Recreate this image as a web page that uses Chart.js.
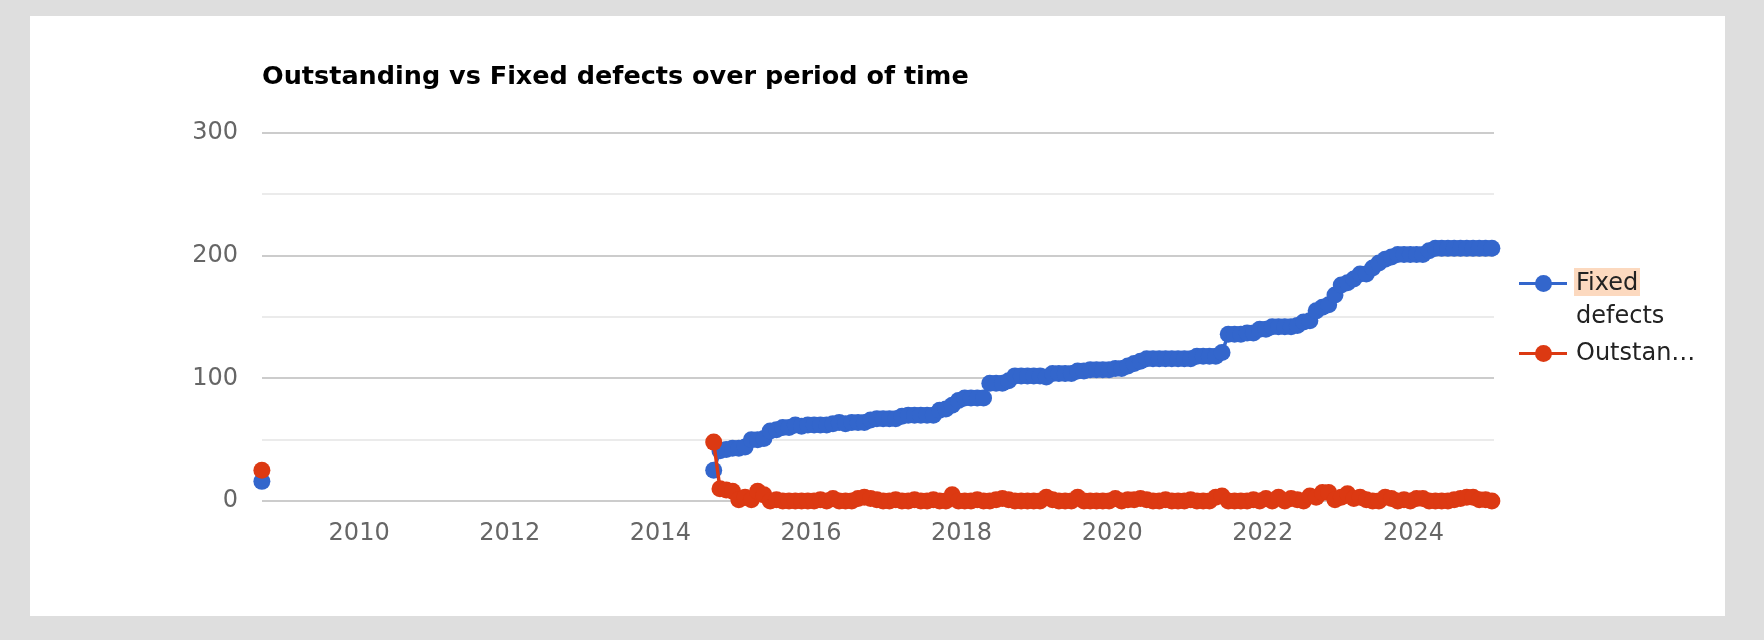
<!DOCTYPE html>
<html>
<head>
<meta charset="utf-8">
<script src="https://cdn.jsdelivr.net/npm/chart.js@4.4.1/dist/chart.umd.min.js"></script>
<style>
    body { margin: 0; background: #dedede; font-family: "DejaVu Sans", sans-serif; }
    #tarjeta { position: absolute; left: 30px; top: 16px; width: 1695px; height: 600px; background: #fff; }
    #lienzo { position: absolute; left: 0; top: 0; }
    #titulo { position: absolute; left: 262px; top: 60px; font-size: 25.5px; font-weight: bold; color: #000; white-space: nowrap; line-height: 30px; }
    .item { position: absolute; left: 1519px; font-size: 24px; color: #222; line-height: 33px; }
    .muestra { position: absolute; left: 0; width: 48px; height: 3px; }
    .punto { position: absolute; left: 16px; top: -7px; width: 17px; height: 17px; border-radius: 50%; }
    .texto { position: absolute; left: 57px; top: -16px; white-space: nowrap; }
    .marca { background: #fcd9bf; padding: 0 2px; margin-left: -2px; }
</style>
</head>
<body>
<div id="tarjeta"></div>
<canvas id="lienzo" width="1764" height="640"></canvas>
<div id="titulo">Outstanding vs Fixed defects over period of time</div>
<div class="item" style="top:282px">
    <div class="muestra" style="background:#3366cc"><div class="punto" style="background:#3366cc"></div></div>
    <div class="texto"><span class="marca">Fixed</span><br>defects</div>
</div>
<div class="item" style="top:352px">
    <div class="muestra" style="background:#dc3912"><div class="punto" style="background:#dc3912"></div></div>
    <div class="texto">Outstan…</div>
</div>
<script>
// punto suelto del principio (sep 2008)
var mesAislado = '2008-09';
var fixedAislado = 16;
var outstandingAislado = 25;

// serie mensual desde sep 2014 hasta ene 2025
var primerMes = '2014-09';
var fixedDefects = [
    25, 41, 42, 43,
    43, 44, 50, 50, 51, 57, 58, 60, 60, 62, 61, 62,
    62, 62, 62, 63, 64, 63, 64, 64, 64, 66, 67, 67,
    67, 67, 69, 70, 70, 70, 70, 70, 74, 75, 78, 82,
    84, 84, 84, 84, 96, 96, 96, 98, 102, 102, 102, 102,
    102, 101, 104, 104, 104, 104, 106, 106, 107, 107, 107, 107,
    108, 108, 110, 112, 114, 116, 116, 116, 116, 116, 116, 116,
    116, 118, 118, 118, 118, 121, 136, 136, 136, 137, 137, 140,
    140, 142, 142, 142, 142, 143, 146, 147, 155, 158, 160, 168,
    176, 178, 181, 185, 185, 190, 194, 197, 199, 201, 201, 201,
    201, 201, 204, 206, 206, 206, 206, 206, 206, 206, 206, 206,
    206
];
var outstanding = [
    48, 10, 9, 8,
    1, 3, 1, 8, 5, 0, 1, 0, 0, 0, 0, 0,
    0, 1, 0, 2, 0, 0, 0, 2, 3, 2, 1, 0,
    0, 1, 0, 0, 1, 0, 0, 1, 0, 0, 5, 0,
    0, 0, 1, 0, 0, 1, 2, 1, 0, 0, 0, 0,
    0, 3, 1, 0, 0, 0, 3, 0, 0, 0, 0, 0,
    2, 0, 1, 1, 2, 1, 0, 0, 1, 0, 0, 0,
    1, 0, 0, 0, 3, 4, 0, 0, 0, 0, 1, 0,
    2, 0, 3, 0, 2, 1, 0, 4, 3, 7, 7, 1,
    3, 6, 2, 3, 1, 0, 0, 3, 2, 0, 1, 0,
    2, 2, 0, 0, 0, 0, 1, 2, 3, 3, 1, 1,
    0
];

var xTicks = [2010, 2012, 2014, 2016, 2018, 2020, 2022, 2024];
var yTicks = [0, 100, 200, 300];

function aDecimal(mes) {
    var partes = mes.split('-');
    return parseInt(partes[0]) + (parseInt(partes[1]) - 0.5) / 12;
}

function armarSerie(aislado, valores) {
    var datos = [{ x: aDecimal(mesAislado), y: aislado }, { x: 2011.5, y: null }];
    var inicio = aDecimal(primerMes);
    for (var i = 0; i < valores.length; i++) {
        datos.push({ x: inicio + i / 12, y: valores[i] });
    }
    return datos;
}

var ctx = document.getElementById('lienzo');
var grafico = new Chart(ctx, {
    type: 'line',
    data: {
        datasets: [{
            label: 'Outstanding',
            data: armarSerie(outstandingAislado, outstanding),
            borderColor: '#dc3912',
            backgroundColor: '#dc3912',
            borderWidth: 3.5,
            pointRadius: 8.5,
            pointBorderWidth: 0,
            spanGaps: false,
            clip: false
        }, {
            label: 'Fixed defects',
            data: armarSerie(fixedAislado, fixedDefects),
            borderColor: '#3366cc',
            backgroundColor: '#3366cc',
            borderWidth: 3.5,
            pointRadius: 8.5,
            pointBorderWidth: 0,
            spanGaps: false,
            clip: false
        }]
    },
    options: {
        responsive: false,
        animation: false,
        layout: { padding: { left: 0, right: 270, top: 133, bottom: 89 } },
        plugins: { legend: { display: false }, tooltip: { enabled: false } },
        scales: {
            x: {
                type: 'linear',
                min: 2008.71,
                max: 2025.07,
                grid: { display: false, drawTicks: false },
                border: { display: false },
                afterBuildTicks: function(axis) {
                    axis.ticks = xTicks.map(function(v) { return { value: v }; });
                },
                afterFit: function(axis) { axis.height = 50; },
                ticks: {
                    padding: 18,
                    maxRotation: 0,
                    color: '#666',
                    font: { family: 'DejaVu Sans', size: 24 },
                    callback: function(v) { return String(v); }
                }
            },
            y: {
                min: 0,
                max: 300,
                grid: {
                    drawTicks: false,
                    lineWidth: 2,
                    color: function(c) { return yTicks.indexOf(c.tick.value) >= 0 ? '#cccccc' : '#ebebeb'; }
                },
                border: { display: false },
                afterFit: function(axis) { axis.width = 262; },
                ticks: {
                    stepSize: 50,
                    padding: 24,
                    color: '#666',
                    font: { family: 'DejaVu Sans', size: 24 },
                    callback: function(v) { return yTicks.indexOf(v) >= 0 ? String(v) : ''; }
                }
            }
        }
    }
});
</script>
</body>
</html>
